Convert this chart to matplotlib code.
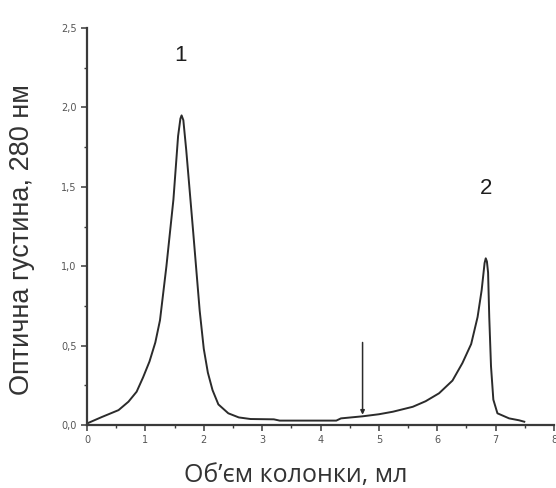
import matplotlib
matplotlib.use('Agg')
import matplotlib.pyplot as plt
from matplotlib.ticker import MultipleLocator, FuncFormatter

dpi = 100

# Elution profile: optical density at 280 nm vs column volume (ml)
volume = [0.0, 0.25, 0.54, 0.71, 0.85, 0.96, 1.07, 1.17, 1.25, 1.36, 1.48,
          1.56, 1.60, 1.62, 1.65, 1.70, 1.82, 1.93, 2.0, 2.07, 2.15, 2.25,
          2.42, 2.60, 2.80, 3.2, 3.3, 4.27, 4.35, 4.72, 5.0, 5.24, 5.58,
          5.8, 6.03, 6.26, 6.43, 6.58, 6.69, 6.76, 6.81, 6.83, 6.85, 6.87,
          6.89, 6.92, 6.96, 7.03, 7.23, 7.40, 7.49]
density = [0.01, 0.05, 0.094, 0.147, 0.21, 0.30, 0.40, 0.52, 0.66, 1.0, 1.42,
           1.82, 1.93, 1.95, 1.92, 1.73, 1.21, 0.72, 0.48, 0.33, 0.22, 0.13,
           0.074, 0.048, 0.038, 0.036, 0.028, 0.028, 0.042, 0.055, 0.068,
           0.084, 0.115, 0.15, 0.20, 0.28, 0.39, 0.51, 0.68, 0.85, 1.02,
           1.05, 1.03, 0.96, 0.68, 0.37, 0.16, 0.074, 0.042, 0.03, 0.021]

peak_labels = ['1', '2']
peak_x = [1.6, 6.84]
peak_y = [2.33, 1.49]

# arrow marking the start of the second elution step
arrow_x = 4.72
arrow_from = 0.52
arrow_to = 0.065

fig = plt.figure(figsize=(556/dpi, 488/dpi), dpi=dpi)
ax = fig.add_axes([0.1565, 0.129, 0.84, 0.8135])

ax.plot(volume, density, color='#2b2b2b', lw=1.4)

ax.annotate('', xy=(arrow_x, arrow_to), xytext=(arrow_x, arrow_from),
            arrowprops=dict(arrowstyle='-|>', color='#2b2b2b', lw=1.1,
                            mutation_scale=6, shrinkA=0, shrinkB=0))

for lab, px, py in zip(peak_labels, peak_x, peak_y):
    ax.text(px, py, lab, fontsize=16, family='Liberation Sans', color='#1e1e1e',
            ha='center', va='center')

ax.set_xlim(0, 8)
ax.set_ylim(0, 2.5)
ax.spines['top'].set_visible(False)
ax.spines['right'].set_visible(False)
for s in ('left', 'bottom'):
    ax.spines[s].set_linewidth(1.6)
    ax.spines[s].set_color('#3a3a3a')

ax.xaxis.set_major_locator(MultipleLocator(1))
ax.xaxis.set_minor_locator(MultipleLocator(0.5))
ax.yaxis.set_major_locator(MultipleLocator(0.5))
ax.yaxis.set_minor_locator(MultipleLocator(0.25))
ax.yaxis.set_major_formatter(FuncFormatter(lambda v, p: f'{v:.1f}'.replace('.', ',')))
ax.tick_params(which='major', direction='out', length=4, width=1.1,
               colors='#3a3a3a', labelsize=7, labelcolor='#555555')
ax.tick_params(which='minor', direction='out', length=2, width=1.0,
               colors='#3a3a3a')

ax.set_xlabel('Об\u2019єм колонки, мл', family='Open Sans', fontsize=18,
              color='#333333', va='center')
ax.xaxis.set_label_coords(0.446, -0.128)
ax.set_ylabel('Оптична густина, 280 нм', family='Liberation Sans',
              fontsize=19.5, color='#333333', va='center')
ax.yaxis.set_label_coords(-0.14, 0.466)

fig.savefig('out.png', dpi=dpi)
